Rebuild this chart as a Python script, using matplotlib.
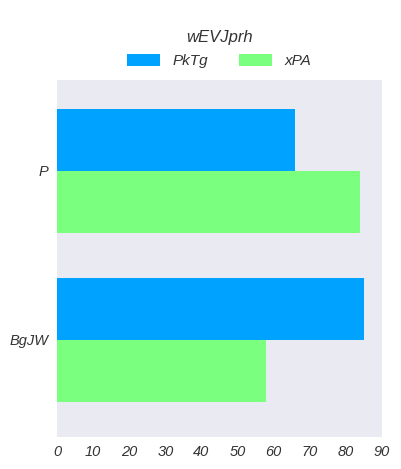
import matplotlib
matplotlib.use("Agg")
import matplotlib.pyplot as plt
import numpy as np

categories = ["P", "BgJW"]
series_names = ["PkTg", "xPA"]
values_pktg = [66, 85]
values_xpa = [84, 58]
legend_title = "wEVJprh"
xticks = [0, 10, 20, 30, 40, 50, 60, 70, 80, 90]

colors = ["#00A2FF", "#7BFF7F"]
text_color = "#333333"

plt.rcParams['font.family'] = ['Liberation Sans', 'DejaVu Sans']

fig = plt.figure(figsize=(4.02, 4.69), dpi=100)
ax = fig.add_axes([57/402, 1-437/469, 325/402, 357/469])
ax.set_facecolor("#EAEAF2")
for s in ax.spines.values():
    s.set_visible(False)

y = np.arange(len(categories))
h = 0.367
ax.barh(y - h/2, values_pktg, height=h, color=colors[0], label=series_names[0])
ax.barh(y + h/2, values_xpa, height=h, color=colors[1], label=series_names[1])

ax.set_xlim(0, 90)
ax.set_ylim(1.574, -0.538)
ax.set_yticks(y)
ax.set_yticklabels(categories, fontsize=10.5, style='italic', color=text_color)
ax.set_xticks(xticks)
ax.set_xticklabels([str(t) for t in xticks], fontsize=10.5, style='italic', color=text_color)
ax.tick_params(length=0, pad=6)

leg = fig.legend(loc='upper center', bbox_to_anchor=(219/402, 1-24/469), ncol=2, frameon=False,
                 title=legend_title, prop={'style': 'italic', 'size': 11},
                 handlelength=2.2, handleheight=0.8, columnspacing=2.0, handletextpad=0.8,
                 labelspacing=0.6, borderaxespad=0)
leg.get_title().set_fontstyle('italic')
leg.get_title().set_fontsize(12)
leg.get_title().set_color(text_color)
for t in leg.get_texts():
    t.set_color(text_color)

fig.savefig("out.png", dpi=100)
